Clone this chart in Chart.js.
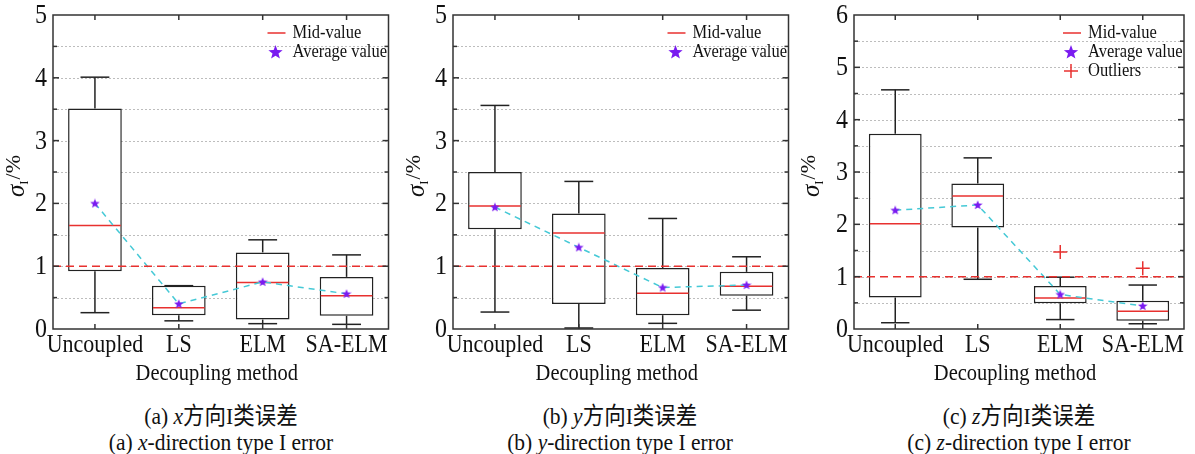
<!DOCTYPE html>
<html>
<head>
<meta charset="utf-8">
<script src="https://cdn.jsdelivr.net/npm/chart.js@4.4.1/dist/chart.umd.min.js"></script>
<style>
  body { margin: 0; background: #fff; width: 1195px; height: 454px; position: relative; overflow: hidden;
         font-family: "Liberation Serif", "Noto Sans CJK SC", serif; color: #111; }
  .panel { position: absolute; top: 0; }
  .cap { position: absolute; transform: translate(-50%, -50%) scaleY(1.12); white-space: nowrap; font-size: 21.5px; }
</style>
</head>
<body>
<div class="panel" style="left:0"><canvas id="chartX" width="395" height="392"></canvas></div>
<div class="panel" style="left:400px"><canvas id="chartY" width="395" height="392"></canvas></div>
<div class="panel" style="left:795px"><canvas id="chartZ" width="400" height="392"></canvas></div>

<div class="cap" style="left:221px;top:413px">(a) <i>x</i>方向I类误差</div>
<div class="cap" style="left:221px;top:443px">(a) <i>x</i>-direction type I error</div>
<div class="cap" style="left:620px;top:413px">(b) <i>y</i>方向I类误差</div>
<div class="cap" style="left:620px;top:443px">(b) <i>y</i>-direction type I error</div>
<div class="cap" style="left:1019px;top:413px">(c) <i>z</i>方向I类误差</div>
<div class="cap" style="left:1019px;top:443px">(c) <i>z</i>-direction type I error</div>

<script>
const methods = ['Uncoupled', 'LS', 'ELM', 'SA-ELM'];

// x direction
const xMin  = [0.26, 0.13, 0.085, 0.074];
const xQ1   = [0.92, 0.22, 0.15, 0.21];
const xMed  = [1.65, 0.34, 0.74, 0.53];
const xQ3   = [3.51, 0.69, 1.22, 0.83];
const xMax  = [4.01, 0.69, 1.42, 1.18];
const xMean = [2.00, 0.40, 0.75, 0.56];

// y direction
const yMin  = [0.27, 0.016, 0.09, 0.30];
const yQ1   = [1.59, 0.40, 0.22, 0.53];
const yMed  = [1.96, 1.53, 0.57, 0.68];
const yQ3   = [2.50, 1.84, 0.97, 0.91];
const yMax  = [3.56, 2.35, 1.76, 1.15];
const yMean = [1.94, 1.30, 0.66, 0.70];

// z direction
const zMin  = [0.12, 0.95, 0.18, 0.10];
const zQ1   = [0.60, 1.94, 0.49, 0.16];
const zMed  = [2.01, 2.54, 0.59, 0.34];
const zQ3   = [3.73, 2.78, 0.82, 0.54];
const zMax  = [4.57, 3.27, 0.99, 0.84];
const zMean = [2.27, 2.37, 0.66, 0.44];
const zOutliers = [null, null, 1.47, 1.16];

const limitLine = 1;
const RED = '#e8312f', PURPLE = '#7a1bf0', CYAN = '#45c9d6', INK = '#222';
const FONT = "'Liberation Serif', 'Times New Roman', serif";

function drawStar(ctx, x, y, r, color) {
    ctx.beginPath();
    for (let k = 0; k < 10; k++) {
        const rr = k % 2 ? r * 0.42 : r;
        const ang = -Math.PI / 2 + k * Math.PI / 5;
        ctx.lineTo(x + rr * Math.cos(ang), y + rr * Math.sin(ang));
    }
    ctx.closePath();
    ctx.fillStyle = color;
    ctx.fill();
}

// small star image used as point style for the mean markers
const starImg = document.createElement('canvas');
starImg.width = 10; starImg.height = 10;
drawStar(starImg.getContext('2d'), 5, 5.3, 5, PURPLE);

// per-chart whisker / median data, looked up by canvas id
const extras = {};

function hline(ctx, x1, x2, y) { ctx.beginPath(); ctx.moveTo(x1, y); ctx.lineTo(x2, y); ctx.stroke(); }
function vline(ctx, x, y1, y2) { ctx.beginPath(); ctx.moveTo(x, y1); ctx.lineTo(x, y2); ctx.stroke(); }

// axis text is a little taller than wide
function tallText(ctx, text, x, y, stretch = 1.12) {
    ctx.save();
    ctx.translate(x, y);
    ctx.scale(1, stretch);
    ctx.fillText(text, 0, 0);
    ctx.restore();
}

const boxDeco = {
    id: 'boxDeco',
    beforeDatasetsDraw(chart) {
        const ex = extras[chart.canvas.id];
        const { ctx, chartArea: a, scales: { y } } = chart;
        ctx.save();
        ctx.strokeStyle = '#bdbdbd';
        ctx.lineWidth = 1;
        ctx.setLineDash([2, 2]);
        for (let v = 0.5; v < ex.top; v += 0.5) {
            hline(ctx, a.left, a.right, Math.round(y.getPixelForValue(v)) + 0.5);
        }
        ctx.restore();
    },
    afterDatasetDraw(chart, args) {
        if (args.index !== 0) return;
        const ex = extras[chart.canvas.id];
        const { ctx, scales: { y } } = chart;
        const bars = chart.getDatasetMeta(0).data;
        ctx.save();
        bars.forEach((bar, i) => {
            const cx = bar.x, half = bar.width / 2, cap = bar.width / 4 + 1;
            ctx.strokeStyle = INK;
            ctx.lineWidth = 1.5;
            const pMax = y.getPixelForValue(ex.max[i]), pQ3 = y.getPixelForValue(ex.q3[i]);
            const pMin = y.getPixelForValue(ex.min[i]), pQ1 = y.getPixelForValue(ex.q1[i]);
            vline(ctx, cx, pQ3, pMax);
            hline(ctx, cx - cap, cx + cap, pMax);
            vline(ctx, cx, pQ1, pMin);
            hline(ctx, cx - cap, cx + cap, pMin);
            ctx.strokeStyle = RED;
            hline(ctx, cx - half + 1, cx + half - 1, y.getPixelForValue(ex.med[i]));
        });
        ctx.restore();
    },
    afterDatasetsDraw(chart) {
        const ex = extras[chart.canvas.id];
        const { ctx, chartArea: a, scales: { x, y } } = chart;
        ctx.save();

        // limit line
        ctx.strokeStyle = RED;
        ctx.lineWidth = 1.5;
        ctx.setLineDash([8, 5]);
        hline(ctx, a.left, a.right, y.getPixelForValue(limitLine));
        ctx.setLineDash([]);

        // frame with inward ticks
        ctx.strokeStyle = '#333';
        ctx.lineWidth = 1.5;
        ctx.strokeRect(a.left, a.top, a.right - a.left, a.bottom - a.top);
        for (let v = 0.5; v < ex.top; v += 0.5) {
            const py = y.getPixelForValue(v);
            const len = Number.isInteger(v) ? 6 : 4;
            hline(ctx, a.left, a.left + len, py);
            hline(ctx, a.right - len, a.right, py);
        }
        methods.forEach((m, i) => {
            const px = x.getPixelForValue(i);
            vline(ctx, px, a.top, a.top + 5);
            vline(ctx, px, a.bottom - 5, a.bottom);
        });

        // tick labels and x title
        ctx.fillStyle = '#111';
        ctx.font = '24px ' + FONT;
        ctx.textAlign = 'right';
        ctx.textBaseline = 'middle';
        for (let v = 0; v <= ex.top; v++) {
            tallText(ctx, String(v), a.left - 6, y.getPixelForValue(v) + 1);
        }
        ctx.font = '22px ' + FONT;
        ctx.textAlign = 'center';
        methods.forEach((m, i) => tallText(ctx, m, x.getPixelForValue(i), a.bottom + 17));
        ctx.font = '20.5px ' + FONT;
        tallText(ctx, 'Decoupling method', (a.left + a.right) / 2 - 4, a.bottom + 45);

        // legend
        const lx = a.right - 121, tx = a.right - 96;
        const rows = [a.top + 18, a.top + 37, a.top + 56];
        ctx.font = '16.5px ' + FONT;
        ctx.textAlign = 'left';
        ctx.strokeStyle = RED;
        ctx.lineWidth = 1.5;
        hline(ctx, lx, lx + 18, rows[0]);
        tallText(ctx, 'Mid-value', tx, rows[0], 1.08);
        drawStar(ctx, lx + 8, rows[1] + 0.5, 7.5, PURPLE);
        ctx.fillStyle = '#111';
        tallText(ctx, 'Average value', tx, rows[1], 1.08);
        if (ex.outliers) {
            ctx.strokeStyle = RED;
            hline(ctx, lx + 1, lx + 15, rows[2]);
            vline(ctx, lx + 8, rows[2] - 7, rows[2] + 7);
            tallText(ctx, 'Outliers', tx, rows[2], 1.08);
        }

        // y title: sigma_I/%
        const cy = (a.top + a.bottom) / 2;
        ctx.translate(ex.titleX, cy + 4);
        ctx.rotate(-Math.PI / 2);
        ctx.textBaseline = 'alphabetic';
        const fSig = 'italic 25px ' + FONT, fSub = '13px ' + FONT, fRest = '22px ' + FONT;
        ctx.font = fSig; const wS = ctx.measureText('σ').width;
        ctx.font = fSub; const wI = ctx.measureText('I').width;
        ctx.font = fRest; const wR = ctx.measureText('/%').width;
        let px = -(wS + wI + wR + 1) / 2;
        ctx.font = fSig; ctx.fillText('σ', px, 8); px += wS;
        ctx.font = fSub; ctx.fillText('I', px, 12); px += wI + 1;
        ctx.font = fRest; ctx.fillText('/%', px, 4);

        ctx.restore();
    }
};

function makePanel(id, d, opts) {
    extras[id] = { min: d.min, q1: d.q1, med: d.med, q3: d.q3, max: d.max,
                   top: opts.top, outliers: !!d.out, titleX: 16 };
    const datasets = [
        {
            type: 'bar',
            data: d.q1.map((v, i) => [v, d.q3[i]]),
            backgroundColor: '#fff',
            borderColor: INK,
            borderWidth: 1.5,
            borderSkipped: false,
            barPercentage: 0.64,
            categoryPercentage: 1,
            order: 3
        },
        {
            type: 'line',
            data: d.mean,
            borderColor: CYAN,
            borderWidth: 1.5,
            borderDash: [6, 5],
            pointStyle: starImg,
            pointRadius: 5,
            order: 1
        }
    ];
    if (d.out) {
        datasets.push({
            type: 'line',
            data: d.out,
            showLine: false,
            pointStyle: 'cross',
            pointRadius: 7,
            pointBorderColor: RED,
            pointBorderWidth: 1.5,
            order: 2
        });
    }
    new Chart(document.getElementById(id), {
        data: { labels: methods, datasets },
        options: {
            responsive: false,
            animation: false,
            layout: { padding: { top: 15, right: opts.padRight, left: 0, bottom: 0 } },
            plugins: { legend: { display: false }, tooltip: { enabled: false } },
            scales: {
                x: {
                    grid: { display: false, drawTicks: false },
                    border: { display: false },
                    ticks: { display: false },
                    afterFit: s => { s.height = 63; s.paddingLeft = 0; s.paddingRight = 0; }
                },
                y: {
                    min: 0, max: opts.top,
                    grid: { display: false, drawTicks: false },
                    border: { display: false },
                    ticks: { display: false, stepSize: 0.5 },
                    afterFit: s => { s.width = opts.axisW; s.paddingTop = 0; s.paddingBottom = 0; }
                }
            }
        },
        plugins: [boxDeco]
    });
}

makePanel('chartX', { min: xMin, q1: xQ1, med: xMed, q3: xQ3, max: xMax, mean: xMean },
          { top: 5, axisW: 53, padRight: 6 });
makePanel('chartY', { min: yMin, q1: yQ1, med: yMed, q3: yQ3, max: yMax, mean: yMean },
          { top: 5, axisW: 53, padRight: 6 });
makePanel('chartZ', { min: zMin, q1: zQ1, med: zMed, q3: zQ3, max: zMax, mean: zMean, out: zOutliers },
          { top: 6, axisW: 59, padRight: 11 });
</script>
</body>
</html>
